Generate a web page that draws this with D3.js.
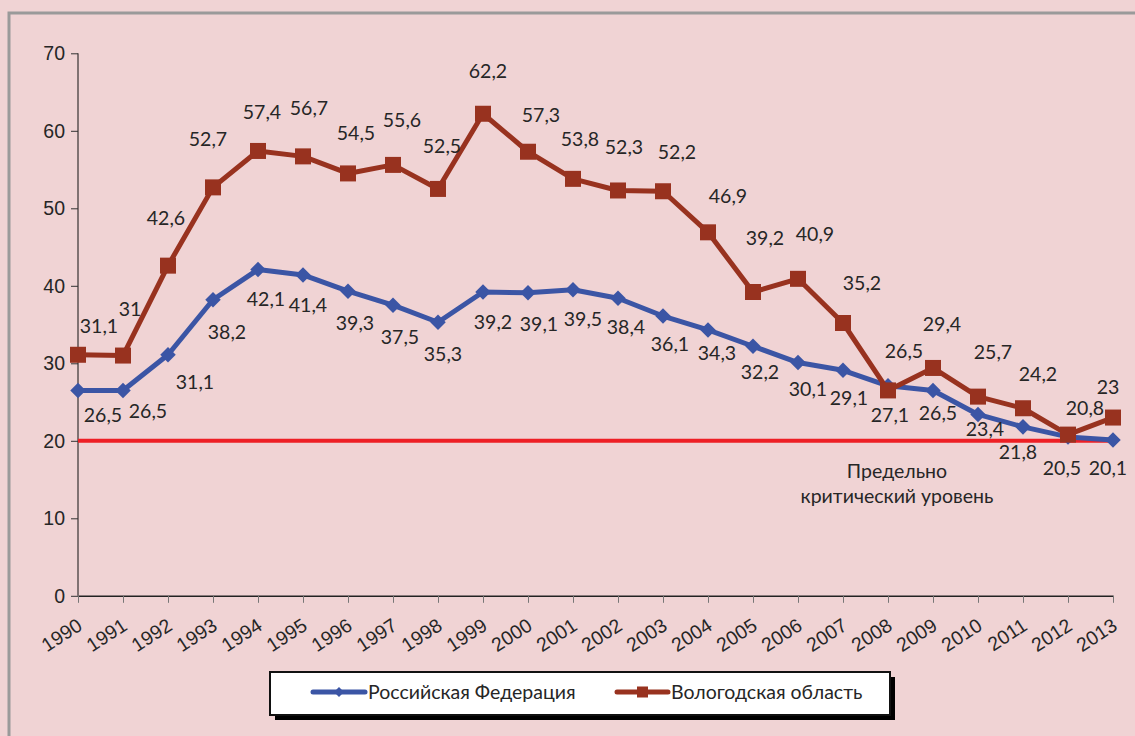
<!DOCTYPE html>
<html>
<head>
<meta charset="utf-8">
<script src="https://d3js.org/d3.v7.min.js"></script>
<style>
  body { margin: 0; background: #f0d3d4; }
  svg { display: block; font-family: Lato, "Open Sans", "Noto Sans", sans-serif; }
</style>
</head>
<body>
<svg width="1135" height="736"></svg>
<script>
// data
var years = [1990,1991,1992,1993,1994,1995,1996,1997,1998,1999,2000,2001,2002,2003,2004,2005,2006,2007,2008,2009,2010,2011,2012,2013];
var russia = [26.5,26.5,31.1,38.2,42.1,41.4,39.3,37.5,35.3,39.2,39.1,39.5,38.4,36.1,34.3,32.2,30.1,29.1,27.1,26.5,23.4,21.8,20.5,20.1];
var vologda = [31.1,31,42.6,52.7,57.4,56.7,54.5,55.6,52.5,62.2,57.3,53.8,52.3,52.2,46.9,39.2,40.9,35.2,26.5,29.4,25.7,24.2,20.8,23];
var yTicks = [0,10,20,30,40,50,60,70];
var critical = 20;
var seriesNames = ["Российская Федерация", "Вологодская область"];
var criticalLabel = ["Предельно", "критический уровень"];

// label offsets (px) from each point, as placed in the original
var russiaDx = [25,25,27,14,8,5,7,7,5,10,11,10,8,7,9,7,10,6,2,5,7,-5,-6,-5];
var russiaDy = [25,21,27,32,30,30,32,32,32,30,31,29,29,28,23,26,27,28,29,23,15,25,31,28];
var vologdaDx = [21,7,-2,-5,4,6,8,9,4,5,13,7,6,14,20,12,17,19,16,9,15,15,17,-5];
var vologdaDy = [-29,-46,-47,-48,-39,-48,-40,-45,-43,-43,-37,-40,-43,-39,-36,-54,-45,-40,-39,-44,-44,-34,-26,-30];

var blue = "#3b55a5", brown = "#98321f", red = "#ee1f25", textCol = "#262626";
var fs = 19.5;

var svg = d3.select("svg");

// outer frame
svg.append("rect").attr("x", 9).attr("y", 13).attr("width", 1140).attr("height", 740)
  .attr("fill", "none").attr("stroke", "#9a9a9a").attr("stroke-width", 3);

var plotL = 78, plotR = 1113, plotT = 53.3, plotB = 595.8;
var x = d3.scalePoint().domain(years).range([plotL, plotR]);
var y = d3.scaleLinear().domain([0, 70]).range([plotB, plotT]);

// y axis
var yAxis = svg.append("g").attr("transform", "translate(" + plotL + ",0)")
  .call(d3.axisLeft(y).tickValues(yTicks).tickSize(7).tickPadding(6));
yAxis.select(".domain").attr("stroke", "#111").attr("d", "M0," + y(70) + "V" + y(0));
yAxis.selectAll(".tick line").attr("stroke", "#333");
yAxis.selectAll("text").attr("font-size", fs).attr("fill", textCol);

// x axis
var xAxis = svg.append("g").attr("transform", "translate(0," + plotB + ")")
  .call(d3.axisBottom(x).tickSize(7).tickSizeOuter(0));
xAxis.select(".domain").attr("stroke", "#222").attr("stroke-width", 1.5);
xAxis.selectAll(".tick line").attr("stroke", "#777");
xAxis.selectAll("text")
  .attr("font-size", fs).attr("fill", textCol)
  .attr("text-anchor", "end").attr("y", 0).attr("dy", 0)
  .attr("transform", "translate(5,33) rotate(-33)");

// critical level line
svg.append("line")
  .attr("x1", x(years[0])).attr("x2", x(years[years.length - 1]))
  .attr("y1", y(critical)).attr("y2", y(critical))
  .attr("stroke", red).attr("stroke-width", 4);

svg.append("text").attr("x", 897).attr("y", 478).attr("text-anchor", "middle")
  .attr("font-size", fs).attr("fill", textCol)
  .selectAll("tspan").data(criticalLabel).enter().append("tspan")
  .attr("x", 897).attr("dy", function(d, i) { return i ? 25 : 0; })
  .text(function(d) { return d; });

var line = d3.line().x(function(d, i) { return x(years[i]); }).y(function(d) { return y(d); });

// Russia
svg.append("path").datum(russia).attr("d", line)
  .attr("fill", "none").attr("stroke", blue).attr("stroke-width", 5).attr("stroke-linejoin", "round");
svg.selectAll(".dia").data(russia).enter().append("path")
  .attr("transform", function(d, i) { return "translate(" + x(years[i]) + "," + y(d) + ") rotate(45)"; })
  .attr("d", "M-5.5,-5.5H5.5V5.5H-5.5Z").attr("fill", blue);

// Vologda
svg.append("path").datum(vologda).attr("d", line)
  .attr("fill", "none").attr("stroke", brown).attr("stroke-width", 5).attr("stroke-linejoin", "round");
svg.selectAll(".sq").data(vologda).enter().append("rect")
  .attr("x", function(d, i) { return x(years[i]) - 8; })
  .attr("y", function(d) { return y(d) - 8; })
  .attr("width", 16).attr("height", 16).attr("fill", brown);

function fmt(v) { return String(v).replace(".", ","); }

svg.selectAll(".lr").data(russia).enter().append("text")
  .attr("x", function(d, i) { return x(years[i]) + russiaDx[i]; })
  .attr("y", function(d, i) { return y(d) + russiaDy[i]; })
  .attr("dy", "0.35em").attr("text-anchor", "middle")
  .attr("font-size", fs).attr("fill", textCol).text(fmt);

svg.selectAll(".lv").data(vologda).enter().append("text")
  .attr("x", function(d, i) { return x(years[i]) + vologdaDx[i]; })
  .attr("y", function(d, i) { return y(d) + vologdaDy[i]; })
  .attr("dy", "0.35em").attr("text-anchor", "middle")
  .attr("font-size", fs).attr("fill", textCol).text(fmt);

// legend
var lg = svg.append("g");
lg.append("rect").attr("x", 275).attr("y", 677).attr("width", 620).attr("height", 43).attr("fill", "#000");
lg.append("rect").attr("x", 270).attr("y", 672).attr("width", 620).attr("height", 43)
  .attr("fill", "#fff").attr("stroke", "#111").attr("stroke-width", 2);

var ly = 692;
lg.append("line").attr("x1", 313).attr("x2", 365).attr("y1", ly).attr("y2", ly)
  .attr("stroke", blue).attr("stroke-width", 5).attr("stroke-linecap", "round");
lg.append("path").attr("transform", "translate(339," + ly + ") rotate(45)")
  .attr("d", "M-3.5,-3.5H3.5V3.5H-3.5Z").attr("fill", blue);
lg.append("text").attr("x", 368).attr("y", ly).attr("dy", "0.35em")
  .attr("font-size", fs).attr("fill", textCol).text(seriesNames[0]);

lg.append("line").attr("x1", 617).attr("x2", 668).attr("y1", ly).attr("y2", ly)
  .attr("stroke", brown).attr("stroke-width", 5).attr("stroke-linecap", "round");
lg.append("rect").attr("x", 637).attr("y", ly - 5.5).attr("width", 11).attr("height", 11).attr("fill", brown);
lg.append("text").attr("x", 671).attr("y", ly).attr("dy", "0.35em")
  .attr("font-size", fs).attr("fill", textCol).text(seriesNames[1]);
</script>
</body>
</html>
